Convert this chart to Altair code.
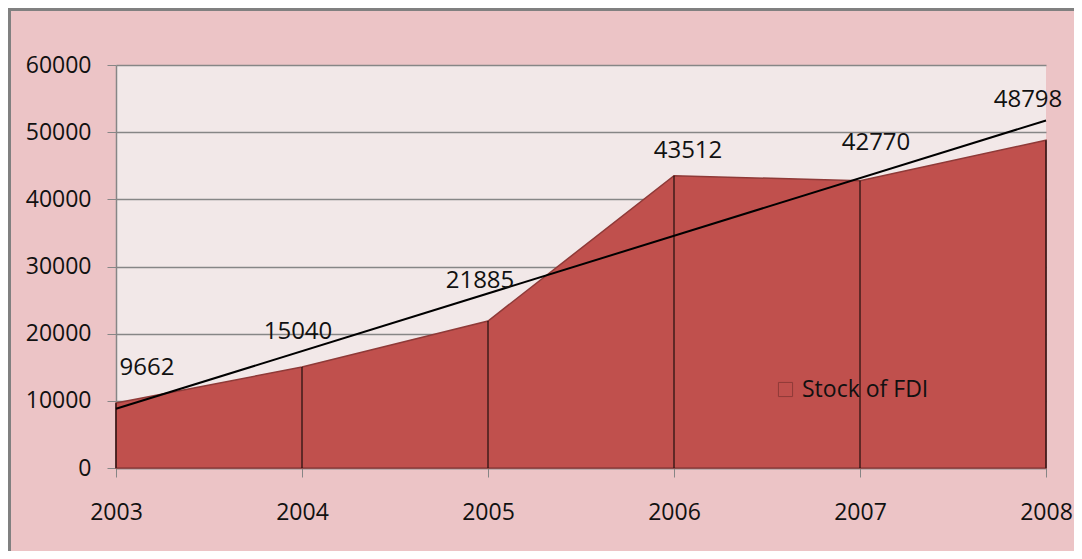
import altair as alt
import pandas as pd

years = [2003, 2004, 2005, 2006, 2007, 2008]
fdi_stock = [9662, 15040, 21885, 43512, 42770, 48798]
series_name = ["Stock of FDI"] * len(years)
y_ticks = [0, 10000, 20000, 30000, 40000, 50000, 60000]

df = pd.DataFrame({"year": years, "value": fdi_stock, "series": series_name})

FONT = "Open Sans"
FS_AX = 23
FS_LAB = 24

# label placement (style only): offset of each data label from its point
label_offsets = {2003: (31, -35), 2004: (-4, -35), 2005: (-8, -40),
                 2006: (14, -25), 2007: (16, -38), 2008: (-18, -40)}

x_enc = alt.X("year:Q", scale=alt.Scale(domain=[2003, 2008], nice=False, zero=False),
              axis=alt.Axis(values=years, format="d", title=None, grid=False,
                            labelFont=FONT, labelFontSize=FS_AX, labelColor="#111111",
                            labelPadding=24, tickSize=9, tickColor="#868686",
                            domainColor="#868686", domainWidth=1.5, labelFlush=False))
y_enc = alt.Y("value:Q", scale=alt.Scale(domain=[0, 60000], nice=False),
              axis=alt.Axis(values=y_ticks, format="d", title=None, grid=True,
                            gridColor="#868686", gridWidth=1.5, labelFont=FONT,
                            labelFontSize=FS_AX, labelColor="#111111", labelPadding=16,
                            tickSize=9, tickColor="#868686", domainColor="#868686",
                            domainWidth=1.5))

base = alt.Chart(df)

area = base.mark_area(fill="#c0504d", strokeWidth=1.5, interpolate="linear").encode(
    x=x_enc, y=y_enc,
    stroke=alt.Stroke("series:N", scale=alt.Scale(range=["#8f3a38"]),
                      legend=alt.Legend(orient="none", legendX=658, legendY=313, title=None,
                                        symbolType="square", symbolSize=200,
                                        symbolFillColor="transparent", symbolStrokeWidth=1,
                                        labelFont=FONT, labelFontSize=FS_AX,
                                        labelColor="#111111", labelOffset=5)),
)

rules = base.mark_rule(color="black", strokeWidth=1).encode(
    x="year:Q", y=alt.Y("value:Q"), y2=alt.datum(0)
)

trend = base.transform_regression("year", "value", extent=[2003, 2008]).mark_line(
    color="black", strokeWidth=2
).encode(x="year:Q", y="value:Q")

labels = []
for yr, (ddx, ddy) in label_offsets.items():
    labels.append(
        base.transform_filter(alt.datum.year == yr).mark_text(
            font=FONT, fontSize=FS_LAB, color="#111111", dx=ddx, dy=ddy,
            align="center", baseline="middle"
        ).encode(x="year:Q", y="value:Q", text=alt.Text("value:Q", format="d"))
    )

frame_top = alt.Chart(df).mark_rule(color="#808080", strokeWidth=3).encode(
    x=alt.value(-110), x2=alt.value(970), y=alt.value(-55.5))
frame_left = alt.Chart(df).mark_rule(color="#808080", strokeWidth=3).encode(
    x=alt.value(-106.5), y=alt.value(-57), y2=alt.value(490))

chart = alt.layer(area, rules, trend, *labels, frame_top, frame_left).properties(
    width=930, height=403,
    autosize=alt.AutoSizeParams(type="none"),
    padding={"left": 108, "top": 57, "right": 28, "bottom": 83},
    background="#ecc4c6",
).configure_view(fill="#f2e8e8", stroke=None)

chart.save("out.html", embed_options={"renderer": "svg", "actions": False})
